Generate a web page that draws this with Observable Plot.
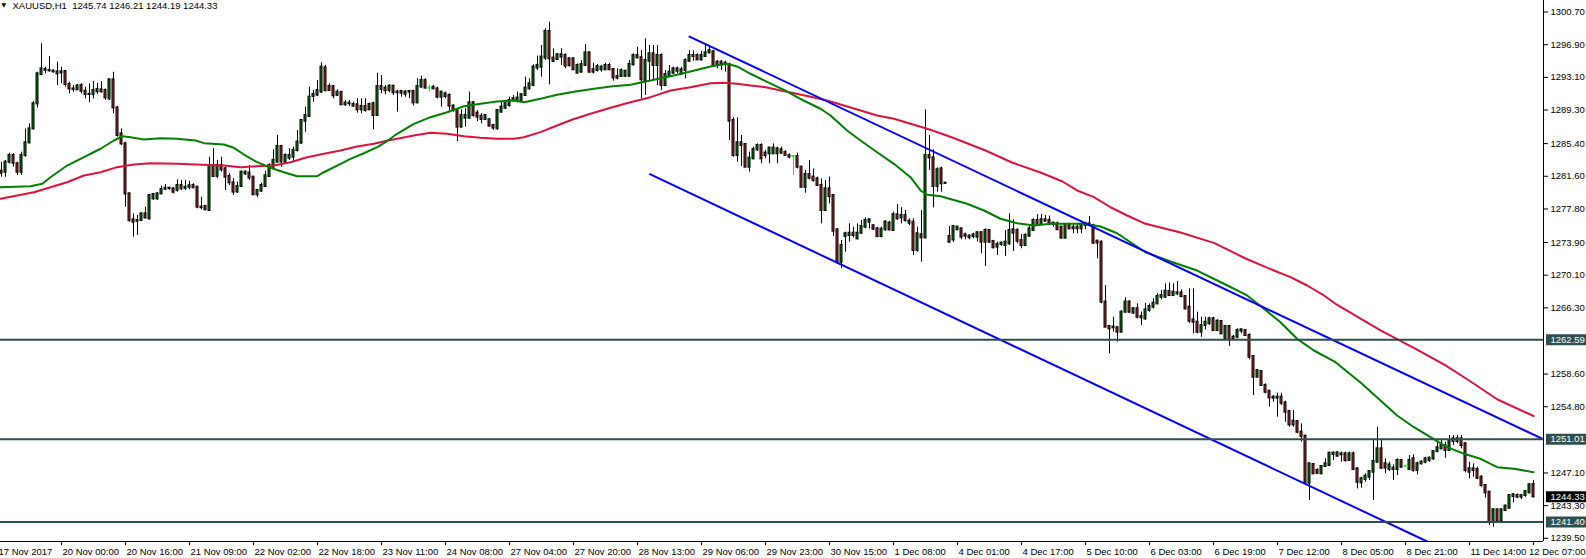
<!DOCTYPE html>
<html><head><meta charset="utf-8">
<script src="https://cdn.jsdelivr.net/npm/d3@7"></script>
<script src="https://cdn.jsdelivr.net/npm/@observablehq/plot@0.6"></script>
<style>html,body{margin:0;padding:0;background:#fff;overflow:hidden}svg{display:block}</style>
</head><body><div id="chart"></div>
<script>
// XAUUSD H1 candles (bar index 0..383)
const opens = [
1282.19,1282.07,1283.24,1284.01,1283.04,1282.07,1284.01,1285.49,1287.11,1290.02,
1293.43,1294.01,1293.90,1293.82,1293.74,1293.62,1293.78,1292.27,1291.76,1291.65,
1292.15,1291.49,1291.14,1291.11,1291.42,1291.65,1291.57,1290.60,1292.81,1289.55,
1286.53,1285.37,1279.55,1276.53,1276.38,1276.45,1277.23,1276.65,1278.97,1278.97,
1279.55,1280.10,1280.21,1280.14,1279.94,1280.52,1280.21,1280.33,1280.53,1280.34,
1278.01,1278.09,1277.63,1282.86,1281.58,1282.86,1282.47,1281.58,1280.84,1279.76,
1280.42,1281.89,1281.97,1281.50,1279.45,1279.87,1280.42,1281.58,1282.66,1283.25,
1285.07,1283.25,1283.71,1283.83,1284.60,1285.45,1288.01,1288.56,1290.88,1291.04,
1291.39,1294.21,1292.04,1292.04,1291.00,1291.35,1290.11,1290.03,1289.95,1289.91,
1289.33,1289.72,1289.33,1290.03,1288.67,1292.04,1291.85,1291.58,1292.08,1291.39,
1291.46,1291.15,1291.39,1291.46,1290.14,1291.97,1292.74,1291.85,1291.93,1291.77,
1290.80,1291.19,1291.00,1289.76,1289.25,1287.32,1288.36,1288.36,1290.14,1288.94,
1288.59,1288.21,1288.17,1287.51,1287.12,1289.06,1289.52,1289.83,1290.42,1290.38,
1290.42,1291.00,1291.77,1292.16,1294.18,1294.29,1295.34,1298.44,1295.34,1295.18,
1295.46,1295.65,1295.26,1295.26,1293.59,1293.71,1294.48,1295.95,1293.98,1293.90,
1293.98,1293.98,1294.48,1294.02,1293.20,1293.20,1293.24,1293.24,1294.56,1295.64,
1295.37,1292.74,1294.98,1295.84,1294.48,1295.64,1292.15,1293.32,1293.59,1294.09,
1293.43,1293.90,1294.98,1295.53,1295.64,1295.14,1295.53,1295.95,1296.07,1294.87,
1294.87,1294.75,1294.60,1288.08,1284.02,1285.49,1285.29,1282.66,1283.63,1284.67,
1285.18,1284.29,1284.21,1284.21,1284.21,1284.67,1284.36,1284.01,1283.90,1283.90,
1282.66,1280.33,1281.81,1281.50,1281.30,1280.53,1277.62,1280.14,1279.36,1275.37,
1271.61,1274.60,1274.71,1274.98,1274.32,1274.98,1275.68,1276.26,1275.84,1275.49,
1274.60,1275.37,1276.15,1275.29,1277.12,1276.77,1277.04,1276.15,1276.26,1272.97,
1274.79,1274.44,1284.01,1283.74,1280.41,1282.46,1280.80,1274.60,1274.20,1275.38,
1275.49,1274.79,1274.64,1274.60,1274.52,1275.03,1273.94,1275.30,1274.02,1273.36,
1273.67,1273.55,1273.75,1275.38,1275.30,1274.14,1273.55,1274.64,1275.30,1276.46,
1276.00,1276.38,1276.46,1276.15,1276.07,1275.69,1274.41,1275.96,1275.49,1275.69,
1275.49,1275.88,1276.07,1275.88,1274.06,1273.94,1266.97,1264.14,1263.98,1263.98,
1263.48,1265.80,1266.97,1265.69,1266.19,1265.30,1265.02,1265.99,1266.38,1266.76,
1267.54,1267.54,1268.20,1267.73,1267.93,1268.04,1267.62,1266.38,1264.90,1264.63,
1263.47,1264.24,1264.44,1265.02,1263.66,1264.71,1262.69,1264.13,1262.89,1262.89,
1263.59,1263.66,1263.08,1260.64,1258.24,1258.90,1257.27,1256.61,1255.91,1255.80,
1255.91,1255.25,1254.24,1253.12,1253.08,1251.84,1251.38,1245.91,1248.08,1247.38,
1247.00,1247.85,1247.97,1249.24,1249.05,1249.21,1249.32,1248.55,1249.32,1247.58,
1245.95,1246.34,1246.61,1247.19,1248.35,1249.90,1248.16,1247.50,1247.66,1247.50,
1248.55,1247.89,1247.50,1248.74,1247.38,1248.16,1248.35,1248.55,1248.74,1249.59,
1249.90,1250.29,1249.71,1250.76,1250.76,1251.07,1250.49,1247.58,1247.58,1247.50,
1246.61,1245.64,1244.87,1241.45,1242.81,1241.57,1242.73,1243.00,1244.36,1244.48,
1244.28,1244.48,1244.79,1245.74];
const highs = [
1283.24,1283.43,1284.28,1284.21,1283.24,1284.40,1287.11,1287.69,1290.29,1293.70,
1297.00,1294.28,1295.52,1293.97,1294.87,1294.28,1293.85,1292.54,1292.15,1292.23,
1292.35,1291.96,1292.35,1292.62,1292.42,1292.62,1291.76,1292.93,1293.70,1289.71,
1287.11,1285.56,1279.67,1277.23,1277.04,1277.31,1278.00,1279.48,1279.55,1279.67,
1280.45,1280.64,1280.33,1280.25,1281.18,1281.11,1281.11,1281.03,1280.73,1280.40,
1279.18,1278.21,1283.83,1284.80,1283.44,1283.83,1282.66,1281.89,1281.31,1280.92,
1282.20,1282.20,1282.86,1281.58,1280.03,1280.80,1282.20,1283.05,1284.68,1286.35,
1285.18,1284.21,1284.80,1284.99,1286.93,1288.17,1289.64,1291.97,1291.58,1292.74,
1294.80,1294.49,1292.35,1292.16,1291.66,1291.40,1290.42,1290.42,1290.22,1290.61,
1290.61,1290.61,1290.11,1290.22,1293.59,1293.32,1292.16,1292.24,1292.16,1291.58,
1291.58,1291.58,1291.58,1291.58,1292.94,1293.25,1292.94,1292.16,1292.16,1291.97,
1291.46,1291.39,1291.19,1289.91,1289.45,1289.33,1289.45,1291.39,1290.30,1289.25,
1288.87,1288.75,1288.28,1287.59,1289.37,1290.22,1290.42,1290.80,1291.00,1291.39,
1291.19,1293.13,1292.94,1294.56,1295.57,1296.81,1298.75,1299.52,1296.42,1295.84,
1296.42,1295.84,1295.34,1295.34,1294.67,1295.06,1296.92,1296.03,1294.75,1294.60,
1294.48,1294.75,1294.75,1294.09,1294.09,1294.09,1293.90,1295.06,1295.84,1296.61,
1296.22,1297.58,1296.81,1296.81,1296.81,1295.84,1293.90,1294.48,1294.29,1294.29,
1294.29,1295.26,1296.22,1296.15,1295.84,1296.15,1297.00,1296.81,1296.22,1295.06,
1295.06,1294.98,1294.75,1288.39,1288.39,1286.34,1285.37,1284.40,1284.98,1285.37,
1285.37,1284.60,1284.98,1285.37,1284.98,1284.98,1284.60,1284.21,1284.01,1284.29,
1282.74,1282.27,1283.43,1282.46,1281.50,1281.30,1281.11,1281.50,1279.48,1275.49,
1274.13,1275.10,1276.07,1275.68,1276.07,1276.46,1276.77,1276.65,1275.99,1275.60,
1275.68,1276.46,1276.38,1277.43,1278.32,1277.93,1277.62,1276.65,1276.65,1275.68,
1277.62,1289.32,1286.34,1284.67,1282.58,1282.66,1280.88,1275.76,1275.88,1275.76,
1275.61,1274.99,1274.79,1274.99,1275.11,1275.11,1275.49,1275.38,1274.14,1273.94,
1273.94,1275.30,1277.24,1276.54,1275.49,1274.83,1274.91,1275.88,1276.66,1277.16,
1277.16,1277.04,1276.97,1276.27,1276.27,1275.76,1276.07,1276.15,1276.07,1276.07,
1276.07,1276.27,1276.93,1276.00,1274.14,1274.06,1268.90,1264.25,1265.22,1264.14,
1266.00,1267.47,1267.16,1266.31,1266.77,1265.80,1266.84,1266.76,1267.35,1267.93,
1268.31,1269.09,1269.17,1269.09,1269.36,1268.39,1267.73,1268.51,1268.51,1265.80,
1265.21,1265.21,1265.21,1265.21,1264.90,1264.83,1264.24,1264.24,1263.08,1263.86,
1263.86,1263.74,1263.28,1260.70,1259.09,1259.01,1257.46,1256.69,1256.11,1256.38,
1256.38,1255.45,1254.36,1254.36,1253.20,1252.81,1251.45,1248.24,1248.16,1247.58,
1247.97,1248.74,1249.52,1249.52,1249.52,1249.52,1249.52,1249.52,1249.52,1247.66,
1246.61,1247.00,1247.38,1250.87,1252.42,1250.87,1248.74,1248.35,1248.04,1248.74,
1248.66,1247.97,1249.13,1249.21,1248.35,1248.55,1248.94,1248.94,1249.71,1250.68,
1250.87,1250.68,1251.45,1251.45,1251.45,1251.45,1250.60,1248.35,1248.16,1247.77,
1246.80,1245.72,1244.94,1242.93,1242.85,1242.93,1243.39,1244.56,1244.67,1244.67,
1244.56,1245.06,1245.83,1246.21];
const lows = [
1281.49,1281.49,1283.04,1282.66,1281.69,1281.69,1283.82,1285.37,1287.00,1289.55,
1293.31,1293.51,1293.70,1293.59,1292.15,1292.35,1291.96,1291.18,1291.38,1291.57,
1291.18,1290.60,1290.14,1290.60,1291.11,1291.26,1290.41,1290.41,1288.86,1286.14,
1285.18,1278.00,1276.26,1274.52,1274.71,1276.38,1276.65,1276.53,1278.78,1278.78,
1279.48,1279.94,1279.94,1279.55,1279.75,1279.94,1279.94,1280.02,1280.14,1277.82,
1277.70,1277.63,1277.55,1281.50,1281.31,1282.08,1279.95,1280.53,1279.37,1279.64,
1280.34,1281.70,1281.11,1279.37,1279.10,1279.76,1280.34,1281.50,1282.47,1283.13,
1282.66,1283.05,1283.44,1283.25,1284.41,1285.38,1286.73,1288.48,1290.22,1290.88,
1291.27,1291.39,1291.50,1290.61,1290.88,1289.83,1289.72,1289.72,1289.64,1288.94,
1288.87,1289.06,1289.25,1287.01,1288.56,1291.19,1291.08,1291.31,1291.00,1289.06,
1290.80,1290.80,1290.61,1289.76,1290.03,1291.85,1291.77,1291.39,1291.70,1290.61,
1289.64,1290.61,1289.25,1289.06,1285.65,1287.20,1287.32,1288.28,1288.48,1287.97,
1287.70,1288.09,1287.32,1286.93,1286.93,1288.94,1289.37,1289.64,1290.22,1290.14,
1290.30,1290.92,1291.58,1292.08,1293.90,1293.13,1295.07,1292.24,1294.87,1295.07,
1294.49,1294.10,1294.29,1293.90,1293.51,1293.59,1294.36,1293.59,1293.51,1293.71,
1293.71,1293.90,1293.90,1292.66,1292.81,1293.12,1293.12,1293.12,1294.44,1295.26,
1290.60,1290.99,1292.74,1292.74,1292.15,1291.57,1292.04,1293.12,1293.43,1293.51,
1293.32,1292.93,1294.87,1294.98,1295.06,1294.98,1295.45,1295.84,1294.36,1294.09,
1293.90,1293.71,1285.76,1283.82,1283.24,1282.74,1282.58,1282.08,1283.51,1284.52,
1283.05,1283.63,1283.05,1284.13,1283.05,1284.13,1283.90,1283.63,1281.69,1282.46,
1280.25,1279.63,1281.19,1280.91,1280.41,1276.07,1277.50,1278.39,1274.60,1271.42,
1270.84,1272.77,1273.94,1274.44,1274.21,1274.91,1275.49,1275.49,1275.29,1274.44,
1274.44,1275.22,1275.22,1275.18,1276.46,1276.07,1276.26,1275.88,1272.39,1272.77,
1271.61,1274.32,1282.27,1277.93,1279.75,1279.75,1280.72,1273.82,1273.90,1275.30,
1274.21,1274.21,1274.21,1274.33,1273.94,1272.59,1271.11,1273.83,1273.17,1272.39,
1273.44,1272.28,1273.55,1272.86,1273.75,1273.17,1273.44,1274.52,1275.22,1275.76,
1275.88,1276.27,1275.88,1275.69,1275.30,1274.33,1274.33,1275.38,1274.91,1274.91,
1274.91,1275.38,1275.76,1273.67,1272.00,1266.77,1263.98,1260.96,1263.48,1262.31,
1263.36,1265.69,1265.69,1265.53,1265.03,1264.25,1264.83,1265.80,1266.18,1266.69,
1267.23,1267.42,1267.62,1267.62,1267.73,1267.46,1266.07,1264.52,1263.28,1263.28,
1262.89,1263.74,1264.24,1263.55,1263.55,1263.20,1262.58,1261.80,1262.50,1262.69,
1263.28,1262.97,1260.25,1256.11,1258.16,1257.15,1256.30,1254.75,1255.33,1253.59,
1254.94,1253.00,1252.42,1252.42,1251.65,1250.68,1245.83,1243.90,1246.92,1246.92,
1246.92,1247.77,1247.85,1248.55,1248.94,1248.35,1248.35,1248.43,1247.38,1245.25,
1245.33,1246.03,1246.22,1243.90,1248.28,1247.50,1247.00,1247.27,1246.22,1246.80,
1247.66,1247.81,1247.38,1247.19,1246.88,1248.04,1248.16,1248.35,1248.55,1249.44,
1249.83,1248.82,1249.59,1250.29,1250.49,1249.90,1247.11,1246.42,1246.61,1246.34,
1245.45,1244.17,1240.99,1240.80,1241.45,1241.45,1242.62,1242.93,1243.62,1244.17,
1244.01,1244.28,1244.67,1244.19];
const closes = [
1281.96,1283.24,1284.01,1283.12,1282.07,1284.01,1285.49,1287.11,1290.02,1293.51,
1294.09,1293.93,1293.86,1293.74,1293.51,1293.74,1292.27,1291.76,1291.69,1292.11,
1291.49,1291.11,1291.11,1291.57,1291.69,1291.42,1290.72,1292.81,1289.55,1286.34,
1285.37,1279.55,1276.45,1276.26,1276.45,1277.23,1276.76,1279.36,1279.48,1279.55,
1280.06,1280.21,1280.17,1279.75,1280.52,1280.14,1280.33,1280.49,1280.26,1278.01,
1277.95,1277.70,1282.86,1281.58,1282.86,1282.35,1281.50,1280.84,1279.76,1280.42,
1282.08,1282.08,1281.39,1279.45,1279.95,1280.53,1281.66,1282.86,1283.44,1285.07,
1283.25,1284.02,1284.02,1284.60,1285.57,1288.09,1288.67,1290.80,1291.11,1291.58,
1294.29,1291.58,1291.58,1290.96,1291.39,1289.91,1289.91,1290.11,1289.76,1289.33,
1289.72,1289.25,1289.95,1288.67,1292.04,1291.70,1291.54,1292.08,1291.31,1291.31,
1291.27,1291.39,1291.46,1290.14,1292.04,1292.74,1291.85,1291.85,1291.77,1290.80,
1291.39,1290.88,1289.76,1289.25,1287.32,1288.67,1288.67,1290.14,1288.67,1288.48,
1288.21,1288.67,1287.43,1287.20,1289.25,1289.64,1290.03,1290.42,1290.61,1290.69,
1291.08,1291.85,1292.35,1294.29,1294.49,1295.46,1298.44,1295.26,1294.95,1295.73,
1295.73,1294.41,1294.49,1293.98,1294.48,1294.60,1295.95,1293.71,1293.71,1294.36,
1294.29,1294.48,1293.98,1293.05,1293.01,1293.90,1293.82,1294.60,1295.64,1295.37,
1292.81,1295.06,1295.84,1294.48,1295.64,1292.15,1293.43,1293.71,1294.09,1293.82,
1293.98,1295.06,1295.64,1295.64,1295.14,1295.64,1295.95,1296.22,1294.48,1294.60,
1294.67,1294.60,1288.01,1284.02,1285.49,1285.18,1282.66,1283.71,1284.71,1285.18,
1283.63,1284.01,1284.87,1284.87,1284.79,1284.29,1284.01,1283.82,1283.90,1282.66,
1280.33,1281.81,1281.38,1281.11,1280.53,1277.62,1280.14,1279.25,1275.22,1271.61,
1273.55,1274.91,1274.98,1274.71,1274.98,1275.76,1276.46,1276.53,1275.45,1274.60,
1275.45,1276.26,1275.37,1277.12,1276.65,1277.04,1276.46,1276.38,1272.97,1274.91,
1274.44,1284.01,1283.74,1280.41,1282.35,1280.72,1280.78,1273.94,1275.76,1275.69,
1274.52,1274.64,1274.45,1274.79,1275.03,1273.94,1275.30,1273.94,1273.28,1273.67,
1273.83,1273.94,1275.30,1274.99,1274.06,1273.55,1274.72,1275.49,1276.46,1275.96,
1276.54,1276.54,1276.07,1276.00,1275.38,1274.41,1275.88,1275.49,1275.69,1275.49,
1275.96,1276.07,1275.88,1273.83,1273.83,1266.97,1264.06,1263.86,1264.06,1263.48,
1265.80,1266.97,1265.80,1266.19,1265.22,1265.14,1266.07,1266.45,1266.84,1267.62,
1267.73,1268.24,1267.73,1268.12,1268.04,1267.62,1266.18,1264.75,1264.63,1263.47,
1264.24,1264.63,1265.02,1263.66,1264.75,1263.28,1264.13,1262.62,1262.69,1263.66,
1263.74,1263.08,1260.56,1258.24,1259.01,1257.27,1256.49,1255.83,1255.80,1255.91,
1255.21,1254.17,1252.69,1252.69,1251.84,1251.34,1245.91,1248.16,1247.00,1247.07,
1247.85,1248.16,1249.40,1249.40,1249.44,1249.32,1248.55,1249.32,1247.50,1246.03,
1246.42,1246.73,1247.27,1248.43,1249.90,1247.66,1247.66,1248.04,1247.50,1248.55,
1247.77,1247.89,1248.55,1247.38,1248.16,1248.35,1248.74,1248.82,1249.59,1250.02,
1250.29,1249.71,1250.87,1251.07,1251.07,1250.29,1247.38,1247.19,1247.38,1246.49,
1245.64,1244.79,1241.45,1242.81,1241.57,1242.81,1243.24,1244.48,1244.56,1244.28,
1244.48,1244.94,1245.72,1244.33];

// Moving averages (bar position, value)
const greenMaBar = [-0.25,7.25,10.2,12.25,16.4,20.6,24.75,28.1,30.2,32.25,35.6,39.75,43.9,48.5,50.6,55.6,58.1,60.6,63.9,67.25,70.6,73.9,78.9,80.6,83.9,87.25,90.6,93.9,96,98.9,103.1,107.25,111.4,115.6,119.75,123.9,128.1,130.6,134.75,138.9,143.5,147.25,152.25,157.25,162.25,167.25,172.25,177.25,181.4,183.9,187.25,191,196,200.5,204.75,207.25,211.4,214.75,218.9,223.1,227.25,229.75,231.4,234.75,238.5,241.4,245.6,249.75,253.9,258.1,262.25,266.4,270.6,274.75,278.9,282.25,286,292.25,298.9,305.6,311.4,315.6,319.75,323.9,328.1,333.5,339.75,344.75,348.9,353.1,357.25,361.4,365.6,369.75,373.9,378.1,383];
const greenMaValue = [1280.33,1280.45,1280.73,1281.49,1282.85,1283.82,1284.80,1285.76,1286.26,1286.14,1285.88,1286.03,1285.96,1285.76,1285.45,1285.30,1284.91,1284.13,1283.24,1282.59,1282.07,1281.61,1281.61,1282.07,1282.85,1283.63,1284.28,1284.98,1285.56,1286.54,1287.70,1288.47,1289.05,1289.75,1290.03,1290.30,1290.41,1290.21,1290.61,1291.07,1291.46,1291.73,1292.04,1292.24,1292.74,1293.24,1293.78,1294.37,1294.68,1294.37,1293.52,1292.66,1291.57,1290.41,1289.45,1288.67,1286.92,1285.76,1284.40,1283.05,1281.49,1279.95,1279.45,1279.28,1278.78,1278.40,1277.62,1276.66,1276.14,1275.88,1276.07,1276.07,1276.07,1275.76,1274.98,1273.93,1272.77,1271.69,1270.64,1269.10,1267.74,1266.19,1264.63,1262.70,1261.34,1259.98,1257.62,1255.53,1253.78,1252.42,1251.26,1250.10,1249.33,1248.75,1247.77,1247.59,1247.19];
const redMaBar = [-0.25,8.1,12.25,16.4,20.6,24.75,28.9,33.1,37.25,43.9,48.5,55.6,59.75,63.9,68.1,72.25,76.4,80.6,84.75,88.9,93.1,96,98.9,103.1,107.25,111.4,115.6,119.75,123.9,128.1,130.6,134.75,138.9,142.75,147.25,152.25,157.25,162.25,167.25,172.25,177.25,180.6,183.9,187.25,191,197.25,202,206.4,210.6,214.75,218.9,223.1,227.25,231.4,234.75,238.5,246,252.6,259.75,265.25,268.9,273.1,277.25,281.4,286,294.75,303.25,311,318.1,322.25,326.4,330.6,333.5,344.75,353.75,361,366.5,374,383];
const redMaValue = [1278.98,1279.75,1280.33,1280.91,1281.69,1282.07,1282.66,1282.97,1283.12,1283.05,1282.97,1282.85,1282.66,1282.77,1282.85,1283.24,1283.82,1284.21,1284.60,1285.06,1285.38,1285.70,1285.96,1286.34,1286.66,1286.54,1286.26,1286.07,1285.96,1285.96,1286.14,1286.73,1287.51,1288.20,1288.87,1289.56,1290.21,1290.80,1291.57,1291.96,1292.42,1292.47,1292.35,1292.16,1291.96,1291.34,1290.88,1290.41,1289.83,1289.25,1288.67,1288.28,1287.70,1287.12,1286.61,1285.96,1284.60,1283.20,1282.04,1280.99,1279.95,1279.17,1278.00,1277.04,1276.07,1275.06,1273.83,1272.04,1270.64,1269.87,1268.90,1267.74,1266.77,1263.67,1261.46,1259.60,1257.97,1255.64,1253.72];

// Channel trend lines (end points)
const upperChannelBar = [172, 385.5];
const upperChannelValue = [1297.85, 1251.0];
const lowerChannelBar = [162.1, 356.4];
const lowerChannelValue = [1281.84, 1239.13];

// Horizontal levels and labels
const levels = [1262.59, 1251.01, 1241.40];
const lastPrice = 1244.33;
const titleText = "XAUUSD,H1  1245.74 1246.21 1244.19 1244.33";
const priceTicks = [1300.70,1296.90,1293.10,1289.30,1285.40,1281.60,1277.80,1273.90,1270.10,1266.30,1258.60,1254.80,1247.10,1243.30,1239.50];
const tickBars = [-1,15,31,47,63,79,95,111,127,143,159,175,191,207,223,239,255,271,287,303,319,335,351,367,383];
const tickLabels = ["17 Nov 2017","20 Nov 00:00","20 Nov 16:00","21 Nov 09:00","22 Nov 02:00","22 Nov 18:00","23 Nov 11:00","24 Nov 08:00","27 Nov 04:00","27 Nov 20:00","28 Nov 13:00","29 Nov 06:00","29 Nov 23:00","30 Nov 15:00","1 Dec 08:00","4 Dec 01:00","4 Dec 17:00","5 Dec 10:00","6 Dec 03:00","6 Dec 19:00","7 Dec 12:00","8 Dec 05:00","8 Dec 21:00","11 Dec 14:00","12 Dec 07:00"];

try {
  const bars = opens.map((o, i) => ({i, o, h: highs[i], l: lows[i], c: closes[i]}));
  const greenMa = greenMaBar.map((b, k) => ({b, v: greenMaValue[k]}));
  const redMa = redMaBar.map((b, k) => ({b, v: redMaValue[k]}));
  const upper = upperChannelBar.map((b, k) => ({b, v: upperChannelValue[k]}));
  const lower = lowerChannelBar.map((b, k) => ({b, v: lowerChannelValue[k]}));
  const LIME = "#00ff00", BULL = "#008000", BEAR = "#b22222", SLATE = "#2f4f4f";
  const xDomain = [-0.25, 385.5];
  const yDomain = [1239.13, 1302.04];
  const pxPerPrice = 541 / (yDomain[1] - yDomain[0]);
  const tickLen = 4 / pxPerPrice;
  const boxX1 = 386.25, boxX2 = 397;
  const FONT = 9.5;
  const n = tickBars.length;
  const axisTicks = tickBars.map((b, k) => ({b, label: tickLabels[k]}));

  const chart = Plot.plot({
    width: 1586, height: 558,
    marginLeft: 0, marginRight: 43, marginTop: 0, marginBottom: 17,
    x: {type: "linear", domain: xDomain, axis: null, label: null},
    y: {type: "linear", domain: yDomain, axis: null, label: null},
    style: {background: "white", color: "black", fontFamily: "'Liberation Sans', Arial, sans-serif", fontSize: "9.5px"},
    marks: [
      // wicks
      Plot.ruleX(bars, {x: "i", y1: "l", y2: "h", stroke: d => d.o === d.c ? LIME : "black", strokeWidth: 1}),
      // bodies
      Plot.rect(bars, {
        x1: d => d.i - 0.25, x2: d => d.i + 0.25, y1: "o", y2: "c",
        fill: d => d.c > d.o ? BULL : d.c < d.o ? BEAR : LIME,
        stroke: d => d.o === d.c ? LIME : "black", strokeWidth: 1,
        insetTop: -0.5, insetBottom: -0.5
      }),
      // moving averages
      Plot.line(redMa, {x: "b", y: "v", stroke: "#dc143c", strokeWidth: 2}),
      Plot.line(greenMa, {x: "b", y: "v", stroke: "#008000", strokeWidth: 2}),
      // channel
      Plot.line(upper, {x: "b", y: "v", stroke: "#0000ff", strokeWidth: 2, clip: true}),
      Plot.line(lower, {x: "b", y: "v", stroke: "#0000ff", strokeWidth: 2, clip: true}),
      // horizontal levels
      Plot.ruleY(levels, {stroke: SLATE, strokeWidth: 2}),
      // axis lines
      Plot.ruleX([xDomain[1]], {stroke: "black", strokeWidth: 1}),
      Plot.ruleY([yDomain[0]], {stroke: "black", strokeWidth: 1}),
      // right axis
      Plot.axisY({ticks: priceTicks, anchor: "right", tickSize: 4, tickPadding: 3, tickFormat: d => d.toFixed(2), fontSize: FONT, label: null}),
      // level label boxes
      Plot.ruleY(levels, {x1: boxX1, x2: boxX2, stroke: SLATE, strokeWidth: 11}),
      Plot.text(levels, {y: d => d, text: d => d.toFixed(2), frameAnchor: "right", dx: 7, textAnchor: "start", lineAnchor: "middle", fill: "white", fontSize: FONT}),
      Plot.ruleY([lastPrice], {x1: boxX1, x2: boxX2, stroke: "black", strokeWidth: 11}),
      Plot.text([lastPrice], {y: d => d, text: d => d.toFixed(2), frameAnchor: "right", dx: 7, textAnchor: "start", lineAnchor: "middle", fill: "white", fontSize: FONT}),
      // bottom time axis
      Plot.ruleX(tickBars, {x: d => d, y1: yDomain[0], y2: yDomain[0] - tickLen, stroke: "black", strokeWidth: 1, clip: false}),
      Plot.text(axisTicks.slice(0, n - 1), {x: "b", text: "label", frameAnchor: "bottom", dy: 13, dx: 1, lineAnchor: "bottom", textAnchor: "start", fontSize: FONT, fill: "black"}),
      Plot.text(axisTicks.slice(n - 1), {text: "label", frameAnchor: "bottom-right", dy: 13, dx: 42, lineAnchor: "bottom", textAnchor: "end", fontSize: FONT, fill: "black"}),
      // title
      Plot.text(["\u25BC"], {text: d => d, frameAnchor: "top-left", dx: 1, dy: 2.5, lineAnchor: "top", textAnchor: "start", fontSize: 6, fill: "black", fontFamily: "DejaVu Sans"}),
      Plot.text([titleText], {text: d => d, frameAnchor: "top-left", dx: 12, dy: 2, lineAnchor: "top", textAnchor: "start", fontSize: FONT, fill: "black"})
    ]
  });
  document.getElementById("chart").append(chart);
} catch (e) {
  document.body.insertAdjacentHTML("beforeend", "<pre>" + e + "\n" + e.stack + "</pre>");
}
</script>
</body></html>
